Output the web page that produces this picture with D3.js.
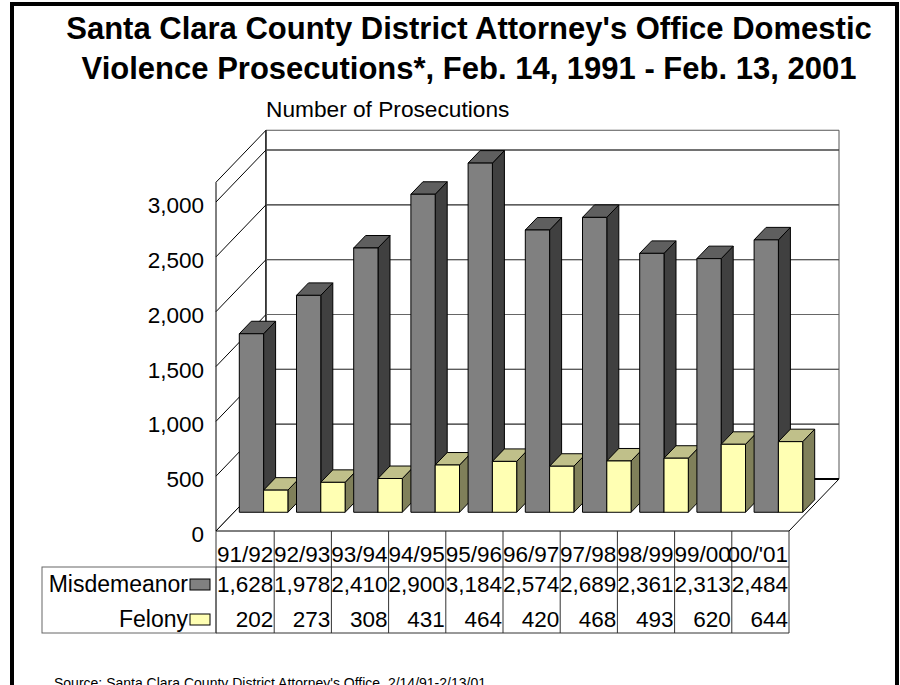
<!DOCTYPE html>
<html>
<head>
<meta charset="utf-8">
<script src="https://cdn.jsdelivr.net/npm/d3@7"></script>
<style>
  body { margin: 0; background: #fff; }
  svg text { font-family: Arial, "Liberation Sans", sans-serif; fill: #000; }
</style>
</head>
<body>
<div id="chart"></div>
<script>
// data
var categories = ["91/92", "92/93", "93/94", "94/95", "95/96", "96/97", "97/98", "98/99", "99/00", "00/'01"];
var misdemeanor = [1628, 1978, 2410, 2900, 3184, 2574, 2689, 2361, 2313, 2484];
var felony = [202, 273, 308, 431, 464, 420, 468, 493, 620, 644];
var yTicks = [0, 500, 1000, 1500, 2000, 2500, 3000];
var seriesNames = ["Misdemeanor", "Felony"];

var width = 900, height = 685;
var svg = d3.select("#chart").append("svg")
  .attr("width", width).attr("height", height);

// outer frame
svg.append("rect")
  .attr("x", 12).attr("y", 4).attr("width", 885).attr("height", 900)
  .attr("fill", "none").attr("stroke", "#000").attr("stroke-width", 4);

// title
var title = svg.append("text")
  .attr("x", 469).attr("y", 39)
  .attr("text-anchor", "middle")
  .style("font-size", "31px").style("font-weight", "bold");
title.append("tspan").attr("x", 469).attr("y", 39)
  .text("Santa Clara County District Attorney's Office Domestic");
title.append("tspan").attr("x", 469).attr("y", 79)
  .text("Violence Prosecutions*, Feb. 14, 1991 - Feb. 13, 2001");

svg.append("text").attr("x", 266).attr("y", 117)
  .style("font-size", "22.7px").text("Number of Prosecutions");

// scales (front plane)
var x = d3.scaleBand().domain(categories).range([217, 789]).padding(0);
var y = d3.scaleLinear().domain([0, 3000]).range([531, 202]);
var axisMax = 3180;
var DX = 50, DY = 52;   // full depth offset

function pt(xf, v, d) {
  return [xf + d * DX, y(v) - d * DY];
}
function poly(points) {
  return points.map(function(p) { return p.join(","); }).join(" ");
}

var xL = 216, xR = 789;

// side wall
svg.append("polygon")
  .attr("points", poly([pt(xL, 0, 0), pt(xL, 0, 1), pt(xL, axisMax, 1), pt(xL, axisMax, 0)]))
  .attr("fill", "#fff").attr("stroke", "#000");
// back wall
svg.append("polygon")
  .attr("points", poly([pt(xL, 0, 1), pt(xR, 0, 1), pt(xR, axisMax, 1), pt(xL, axisMax, 1)]))
  .attr("fill", "#fff").attr("stroke", "#555");
svg.append("line")
  .attr("x1", pt(xL, 0, 1)[0]).attr("y1", pt(xL, 0, 1)[1])
  .attr("x2", pt(xL, axisMax, 1)[0]).attr("y2", pt(xL, axisMax, 1)[1])
  .attr("stroke", "#000");

// gridlines
yTicks.slice(1).forEach(function(v) {
  var a = pt(xL, v, 0), b = pt(xL, v, 1), c = pt(xR, v, 1);
  svg.append("polyline").attr("points", poly([a, b, c]))
    .attr("fill", "none").attr("stroke", "#000").attr("stroke-width", 1);
  svg.append("line")
    .attr("x1", b[0]).attr("y1", b[1]).attr("x2", c[0]).attr("y2", c[1])
    .attr("stroke", "#666");
});

// floor
svg.append("polygon")
  .attr("points", poly([pt(xL, 0, 0), pt(xR, 0, 0), pt(xR, 0, 1), pt(xL, 0, 1)]))
  .attr("fill", "#fff").attr("stroke", "#000");
svg.append("line")
  .attr("x1", pt(xR - 60, 0, 1)[0]).attr("y1", pt(xR, 0, 1)[1])
  .attr("x2", pt(xR, 0, 1)[0]).attr("y2", pt(xR, 0, 1)[1])
  .attr("stroke", "#000").attr("stroke-width", 2);

// y axis labels
svg.selectAll(".ytick").data(yTicks).enter().append("text")
  .attr("class", "ytick")
  .attr("x", 204).attr("y", function(d) { return y(d) + 11; })
  .attr("text-anchor", "end").style("font-size", "22.5px")
  .text(d3.format(","));

// bars
var colors = {
  Misdemeanor: { front: "#808080", top: "#5f5f5f", side: "#404040" },
  Felony: { front: "#ffffb3", top: "#c0c08a", side: "#80805a" }
};
var pad = 4.3, bw = 24.3, d0 = 0.36, d1 = 0.60;
var bars = [];
categories.forEach(function(c, i) {
  bars.push({ s: "Misdemeanor", x0: x(c) + pad, v: misdemeanor[i] });
  bars.push({ s: "Felony", x0: x(c) + pad + bw, v: felony[i] });
});

var g = svg.selectAll(".bar").data(bars).enter().append("g").attr("class", "bar");
g.append("polygon")
  .attr("points", function(b) {
    var x1 = b.x0 + bw;
    return poly([pt(x1, 0, d0), pt(x1, 0, d1), pt(x1, b.v, d1), pt(x1, b.v, d0)]);
  })
  .attr("fill", function(b) { return colors[b.s].side; });
g.append("polygon")
  .attr("points", function(b) {
    var x1 = b.x0 + bw;
    return poly([pt(b.x0, b.v, d0), pt(x1, b.v, d0), pt(x1, b.v, d1), pt(b.x0, b.v, d1)]);
  })
  .attr("fill", function(b) { return colors[b.s].top; });
g.append("polygon")
  .attr("points", function(b) {
    var x1 = b.x0 + bw;
    return poly([pt(b.x0, 0, d0), pt(x1, 0, d0), pt(x1, b.v, d0), pt(b.x0, b.v, d0)]);
  })
  .attr("fill", function(b) { return colors[b.s].front; });
g.selectAll("polygon").attr("stroke", "#000").attr("stroke-width", 1)
  .attr("stroke-linejoin", "round");

// data table
var rowTop = 531, rowMid = 567, rowBot = 633;
var tbl = svg.append("g");
tbl.append("rect").attr("x", 42).attr("y", rowMid)
  .attr("width", xL - 42).attr("height", rowBot - rowMid)
  .attr("fill", "none").attr("stroke", "#666");
tbl.append("line").attr("x1", xL).attr("x2", xR).attr("y1", rowMid).attr("y2", rowMid)
  .attr("stroke", "#333");
tbl.append("line").attr("x1", xL).attr("x2", xR).attr("y1", rowBot).attr("y2", rowBot)
  .attr("stroke", "#333");
tbl.selectAll(".col").data(d3.range(categories.length + 1)).enter().append("line")
  .attr("x1", function(i) { return i === 0 ? xL : x.range()[0] + i * x.bandwidth(); })
  .attr("x2", function(i) { return i === 0 ? xL : x.range()[0] + i * x.bandwidth(); })
  .attr("y1", rowTop).attr("y2", rowBot)
  .attr("stroke", "#333");

tbl.selectAll(".cat").data(categories).enter().append("text")
  .attr("x", function(d) { return x(d) + x.bandwidth() - 1; })
  .attr("y", 561.5).attr("text-anchor", "end").style("font-size", "22.5px")
  .text(function(d) { return d; });

var rows = [
  { name: seriesNames[0], vals: misdemeanor, base: 592 },
  { name: seriesNames[1], vals: felony, base: 627 }
];
rows.forEach(function(r) {
  tbl.append("text").attr("x", 188).attr("y", r.base)
    .attr("text-anchor", "end").style("font-size", "23px").text(r.name);
  tbl.append("rect").attr("x", 190).attr("y", r.base - 13)
    .attr("width", 20).attr("height", 11)
    .attr("fill", colors[r.name].front).attr("stroke", "#000");
  tbl.selectAll(null).data(r.vals).enter().append("text")
    .attr("x", function(d, i) { return x(categories[i]) + x.bandwidth() - 1; })
    .attr("y", r.base).attr("text-anchor", "end").style("font-size", "22.5px")
    .text(d3.format(","));
});

// source
svg.append("text").attr("x", 54).attr("y", 687.5)
  .style("font-size", "14px")
  .text("Source:  Santa Clara County District Attorney's Office, 2/14/91-2/13/01");
</script>
</body>
</html>
